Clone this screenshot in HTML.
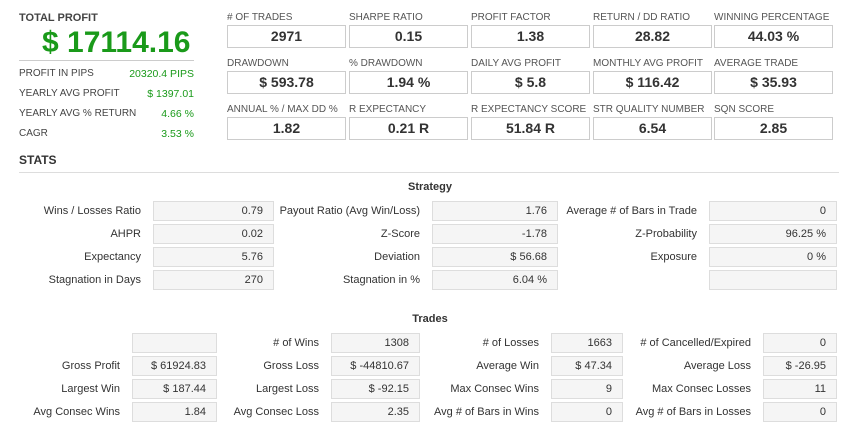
<!DOCTYPE html>
<html><head><meta charset="utf-8"><style>
*{margin:0;padding:0;box-sizing:border-box}
body{width:860px;height:437px;background:#fff;font-family:"Liberation Sans",Arial,sans-serif;color:#333;position:relative;overflow:hidden}
.a{position:absolute;white-space:nowrap}
.tl{font-size:10px;color:#555}
.tb{position:absolute;border:1px solid #ccc;background:#fff;height:23px;width:119px;text-align:center;font-weight:bold;font-size:14px;line-height:21px;color:#333}
.lr{font-size:10px;color:#444}
.gv{font-size:10.5px;color:#1a9a1a;text-align:right}
.lb{position:absolute;font-size:11px;color:#333;text-align:right;white-space:nowrap;line-height:20px}
.bx{position:absolute;background:#f5f5f5;border:1px solid #ddd;height:20px;font-size:11px;text-align:right;padding-right:10px;line-height:18px;color:#333}
.h{position:absolute;font-size:11px;font-weight:bold;color:#333}
</style></head><body>
<div class="a" style="left:19px;top:12px;font-size:11px;font-weight:bold;color:#444">TOTAL PROFIT</div>
<div class="a" style="left:42px;top:26px;font-size:30px;font-weight:bold;color:#1a9a1a">$ 17114.16</div>
<div class="a" style="left:19px;top:60px;width:175px;border-top:1px solid #ccc"></div>
<div class="a lr" style="left:19px;top:68px">PROFIT IN PIPS</div><div class="a gv" style="right:666px;top:68px">20320.4 PIPS</div>
<div class="a lr" style="left:19px;top:88px">YEARLY AVG PROFIT</div><div class="a gv" style="right:666px;top:88px">$ 1397.01</div>
<div class="a lr" style="left:19px;top:108px">YEARLY AVG % RETURN</div><div class="a gv" style="right:666px;top:108px">4.66 %</div>
<div class="a lr" style="left:19px;top:128px">CAGR</div><div class="a gv" style="right:666px;top:128px">3.53 %</div>
<div class="a" style="left:19px;top:153px;font-size:12px;font-weight:bold">STATS</div>
<div class="a" style="left:19px;top:172px;width:820px;border-top:1px solid #ddd"></div>

<div class="a tl" style="left:227px;top:12px">#&nbsp;OF TRADES</div><div class="tb" style="left:227px;top:25px">2971</div>
<div class="a tl" style="left:349px;top:12px">SHARPE RATIO</div><div class="tb" style="left:349px;top:25px">0.15</div>
<div class="a tl" style="left:471px;top:12px">PROFIT FACTOR</div><div class="tb" style="left:471px;top:25px">1.38</div>
<div class="a tl" style="left:593px;top:12px">RETURN / DD RATIO</div><div class="tb" style="left:593px;top:25px">28.82</div>
<div class="a tl" style="left:714px;top:12px">WINNING PERCENTAGE</div><div class="tb" style="left:714px;top:25px">44.03 %</div>

<div class="a tl" style="left:227px;top:58px">DRAWDOWN</div><div class="tb" style="left:227px;top:71px">$ 593.78</div>
<div class="a tl" style="left:349px;top:58px">% DRAWDOWN</div><div class="tb" style="left:349px;top:71px">1.94 %</div>
<div class="a tl" style="left:471px;top:58px">DAILY AVG PROFIT</div><div class="tb" style="left:471px;top:71px">$ 5.8</div>
<div class="a tl" style="left:593px;top:58px">MONTHLY AVG PROFIT</div><div class="tb" style="left:593px;top:71px">$ 116.42</div>
<div class="a tl" style="left:714px;top:58px">AVERAGE TRADE</div><div class="tb" style="left:714px;top:71px">$ 35.93</div>

<div class="a tl" style="left:227px;top:104px">ANNUAL % / MAX DD %</div><div class="tb" style="left:227px;top:117px">1.82</div>
<div class="a tl" style="left:349px;top:104px">R EXPECTANCY</div><div class="tb" style="left:349px;top:117px">0.21 R</div>
<div class="a tl" style="left:471px;top:104px">R EXPECTANCY SCORE</div><div class="tb" style="left:471px;top:117px">51.84 R</div>
<div class="a tl" style="left:593px;top:104px">STR QUALITY NUMBER</div><div class="tb" style="left:593px;top:117px">6.54</div>
<div class="a tl" style="left:714px;top:104px">SQN SCORE</div><div class="tb" style="left:714px;top:117px">2.85</div>

<div class="h" style="left:0;width:860px;text-align:center;top:181px">Strategy</div>
<div class="lb" style="right:719px;top:201px">Wins / Losses Ratio</div><div class="bx" style="left:153px;width:121px;top:201px">0.79</div>
<div class="lb" style="right:440px;top:201px">Payout Ratio (Avg Win/Loss)</div><div class="bx" style="left:432px;width:126px;top:201px">1.76</div>
<div class="lb" style="right:163px;top:201px">Average # of Bars in Trade</div><div class="bx" style="left:709px;width:128px;top:201px">0</div>

<div class="lb" style="right:719px;top:224px">AHPR</div><div class="bx" style="left:153px;width:121px;top:224px">0.02</div>
<div class="lb" style="right:440px;top:224px">Z-Score</div><div class="bx" style="left:432px;width:126px;top:224px">-1.78</div>
<div class="lb" style="right:163px;top:224px">Z-Probability</div><div class="bx" style="left:709px;width:128px;top:224px">96.25 %</div>

<div class="lb" style="right:719px;top:247px">Expectancy</div><div class="bx" style="left:153px;width:121px;top:247px">5.76</div>
<div class="lb" style="right:440px;top:247px">Deviation</div><div class="bx" style="left:432px;width:126px;top:247px">$ 56.68</div>
<div class="lb" style="right:163px;top:247px">Exposure</div><div class="bx" style="left:709px;width:128px;top:247px">0 %</div>

<div class="lb" style="right:719px;top:270px">Stagnation in Days</div><div class="bx" style="left:153px;width:121px;top:270px">270</div>
<div class="lb" style="right:440px;top:270px">Stagnation in %</div><div class="bx" style="left:432px;width:126px;top:270px">6.04 %</div>
<div class="bx" style="left:709px;width:128px;top:270px"></div>

<div class="h" style="left:0;width:860px;text-align:center;top:313px">Trades</div>
<div class="bx" style="left:132px;width:85px;top:333px"></div>
<div class="lb" style="right:541px;top:333px"># of Wins</div><div class="bx" style="left:331px;width:89px;top:333px">1308</div>
<div class="lb" style="right:321px;top:333px"># of Losses</div><div class="bx" style="left:551px;width:72px;top:333px">1663</div>
<div class="lb" style="right:109px;top:333px"># of Cancelled/Expired</div><div class="bx" style="left:763px;width:74px;top:333px">0</div>

<div class="lb" style="right:740px;top:356px">Gross Profit</div><div class="bx" style="left:132px;width:85px;top:356px">$ 61924.83</div>
<div class="lb" style="right:541px;top:356px">Gross Loss</div><div class="bx" style="left:331px;width:89px;top:356px">$ -44810.67</div>
<div class="lb" style="right:321px;top:356px">Average Win</div><div class="bx" style="left:551px;width:72px;top:356px">$ 47.34</div>
<div class="lb" style="right:109px;top:356px">Average Loss</div><div class="bx" style="left:763px;width:74px;top:356px">$ -26.95</div>

<div class="lb" style="right:740px;top:379px">Largest Win</div><div class="bx" style="left:132px;width:85px;top:379px">$ 187.44</div>
<div class="lb" style="right:541px;top:379px">Largest Loss</div><div class="bx" style="left:331px;width:89px;top:379px">$ -92.15</div>
<div class="lb" style="right:321px;top:379px">Max Consec Wins</div><div class="bx" style="left:551px;width:72px;top:379px">9</div>
<div class="lb" style="right:109px;top:379px">Max Consec Losses</div><div class="bx" style="left:763px;width:74px;top:379px">11</div>

<div class="lb" style="right:740px;top:402px">Avg Consec Wins</div><div class="bx" style="left:132px;width:85px;top:402px">1.84</div>
<div class="lb" style="right:541px;top:402px">Avg Consec Loss</div><div class="bx" style="left:331px;width:89px;top:402px">2.35</div>
<div class="lb" style="right:321px;top:402px">Avg # of Bars in Wins</div><div class="bx" style="left:551px;width:72px;top:402px">0</div>
<div class="lb" style="right:109px;top:402px">Avg # of Bars in Losses</div><div class="bx" style="left:763px;width:74px;top:402px">0</div>
</body></html>
